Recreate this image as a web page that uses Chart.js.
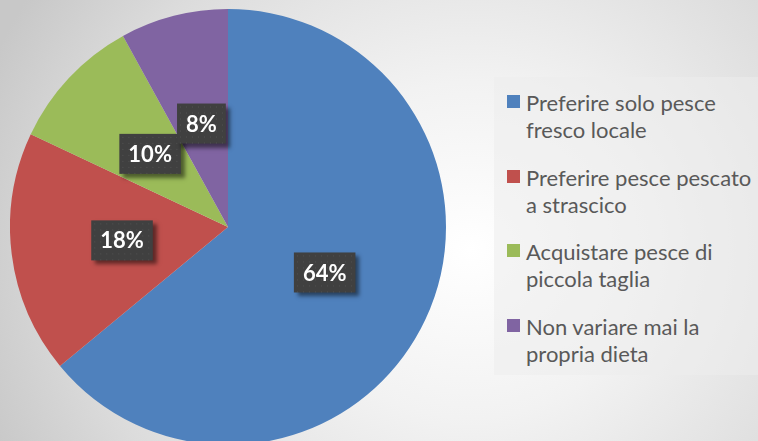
<!DOCTYPE html>
<html><head><meta charset="utf-8">
<script src="https://cdn.jsdelivr.net/npm/chart.js@4"></script>
<style>
html,body{margin:0;padding:0;width:758px;height:441px;overflow:hidden;}
body{background:radial-gradient(ellipse 520px 480px at 470px 250px,#ffffff 0%,#f2f2f2 35%,#dcdcdc 75%,#c8c8c8 100%);position:relative;font-family:Lato,"Open Sans",sans-serif;}
#pie{position:absolute;left:10px;top:9px;width:436px;height:436px;}
#legend{position:absolute;left:494px;top:77px;width:264px;height:298px;background:rgba(236,236,236,0.55);}
.item{position:absolute;left:32px;font-size:22px;line-height:27px;color:#595959;white-space:nowrap;}
.mk{position:absolute;left:-19px;top:6px;width:13px;height:13px;}
</style></head><body>
<div id="pie"><canvas id="c" width="436" height="436"></canvas></div>
<div id="legend"></div>
<script>
const categories = [
  ["Preferire solo pesce","fresco locale"],
  ["Preferire pesce pescato","a strascico"],
  ["Acquistare pesce di","piccola taglia"],
  ["Non variare mai la","propria dieta"]
];
const values = [64, 18, 10, 8];
const valueLabels = ["64%","18%","10%","8%"];
const colors = ["#4F81BD","#C0504D","#9BBB59","#8064A2"];

const lg = document.getElementById('legend');
categories.forEach((lines,i)=>{
  const d = document.createElement('div');
  d.className='item';
  d.style.top = (12 + i*74.5)+'px';
  d.innerHTML = '<span class="mk" style="background:'+colors[i]+'"></span>' + lines.join('<br>');
  lg.appendChild(d);
});

const labelPlugin = {
  id:'boxLabels',
  afterDatasetsDraw(chart){
    const ctx = chart.ctx;
    const meta = chart.getDatasetMeta(0);
    meta.data.forEach((arc,i)=>{
      const p = arc.getProps(['x','y','startAngle','endAngle','outerRadius'],true);
      const mid = (p.startAngle+p.endAngle)/2;
      const r = p.outerRadius*0.49;
      const cx = p.x + Math.cos(mid)*r, cy = p.y + Math.sin(mid)*r;
      ctx.save();
      ctx.font = 'bold 22px Lato, "Open Sans", sans-serif';
      const tw = ctx.measureText(valueLabels[i]).width;
      const w = tw + 18, h = 40;
      const x0 = cx - w/2, y0 = cy - h/2;
      ctx.shadowColor='rgba(0,0,0,0.5)';
      ctx.shadowBlur=4; ctx.shadowOffsetX=4; ctx.shadowOffsetY=4;
      ctx.fillStyle='#404040';
      ctx.fillRect(x0,y0,w,h);
      ctx.shadowColor='transparent';
      ctx.fillStyle='rgba(120,120,120,0.35)';
      for(let yy=y0+3; yy<y0+h; yy+=6){
        for(let xx=x0+3; xx<x0+w; xx+=6){ ctx.fillRect(xx,yy,1,1); }
      }
      ctx.fillStyle='#ffffff';
      ctx.textAlign='center'; ctx.textBaseline='middle';
      ctx.fillText(valueLabels[i], cx, cy+1);
      ctx.restore();
    });
  }
};

new Chart(document.getElementById('c'),{
  type:'pie',
  data:{labels:categories.map(l=>l.join(' ')),datasets:[{data:values,backgroundColor:colors,borderWidth:0}]},
  options:{responsive:false,animation:false,layout:{padding:0},
    plugins:{legend:{display:false},tooltip:{enabled:false}}},
  plugins:[labelPlugin]
});
</script>
</body></html>
